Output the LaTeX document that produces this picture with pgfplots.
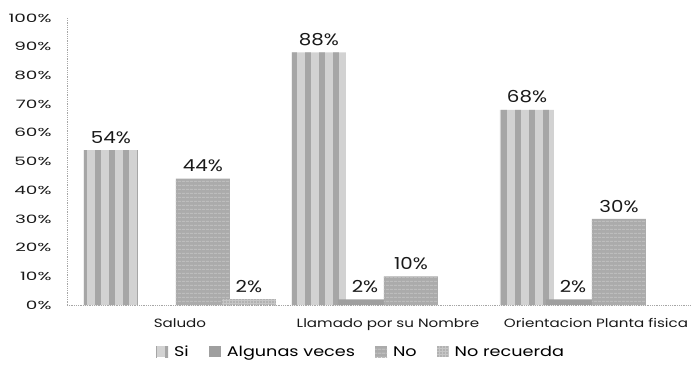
\documentclass[border=0pt]{standalone}
\usepackage{fontspec}
\setmainfont{Poppins}[FakeStretch=1.26]
\newfontfamily\tickfont{Poppins}[FakeStretch=1.6]
\newfontfamily\labfont{Poppins}[FakeStretch=1.2]
\usepackage{pgfplots}
\pgfplotsset{compat=1.18}
\usetikzlibrary{patterns.meta}
\begin{document}
\begin{tikzpicture}
\path[use as bounding box] (-67pt,-63pt) rectangle (626pt,305pt);
\begin{axis}[
  at={(0pt,0pt)}, anchor=south west,
  scale only axis, width=623pt, height=287pt,
  xmin=-0.543, xmax=2.452, ymin=0, ymax=100,
  ybar, bar width=54pt,
  axis x line=bottom, axis y line=left,
  axis line style={-, densely dotted, gray!70, line width=0.8pt},
  xtick={0,1,2},
  xticklabels={Saludo, Llamado por su Nombre, Orientacion Planta fisica},
  ytick={0,10,20,30,40,50,60,70,80,90,100},
  yticklabels={0\%,10\%,20\%,30\%,40\%,50\%,60\%,70\%,80\%,90\%,100\%},
  major tick length=0pt,
  yticklabel style={font=\tickfont\fontsize{11.5}{13}\selectfont, xshift=-12pt, text=black!90},
  xticklabel style={font=\fontsize{12}{14}\selectfont, yshift=-10pt, text=black!90},
  nodes near coords={\pgfmathprintnumber[assume math mode=true]{\pgfplotspointmeta}\%},
  every node near coord/.append style={font=\labfont\fontsize{16.5}{18}\selectfont, text=black!90, yshift=3pt},
  legend image code/.code={\path[#1] (0pt,-5pt) rectangle (12pt,6pt);},
  legend style={at={(axis description cs:0.472,-0.164)}, anchor=center, draw=none,
    fill=none, font=\fontsize{14}{16}\selectfont, legend columns=4,
    /tikz/every odd column/.append style={column sep=4pt},
    /tikz/every even column/.append style={column sep=18pt}},
]
\addplot[draw=none, fill=gray!35, bar shift=-69pt,
  postaction={pattern={Lines[angle=90, distance=14pt, line width=6pt]}, pattern color=gray!70}]
  coordinates {(0,54) (1,88) (2,68)};
\addplot[draw=none, fill=gray!75, bar shift=-23pt]
  coordinates {(1,2) (2,2)};
\addplot[draw=none, fill=gray!66, bar shift=23pt,
  postaction={pattern={Lines[angle=0, distance=4pt, line width=1.5pt]}, pattern color=gray!52}]
  coordinates {(0,44) (1,10) (2,30)};
\addplot[draw=none, fill=gray!45, bar shift=69pt,
  postaction={pattern={Dots[distance=3pt, radius=0.8pt]}, pattern color=gray!75}]
  coordinates {(0,2)};
\legend{Si, Algunas veces, No, No recuerda}
\end{axis}
\end{tikzpicture}
\end{document}
